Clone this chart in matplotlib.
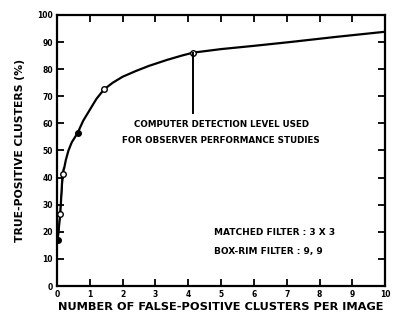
import matplotlib
matplotlib.use("Agg")
import matplotlib.pyplot as plt
import numpy as np

# curve (false positives per image, true positive %)
fp = [0.02, 0.1, 0.17, 0.22, 0.27, 0.35, 0.45, 0.63, 0.8, 1.0, 1.2, 1.43,
      1.7, 2.0, 2.4, 2.8, 3.35, 3.8, 4.15, 5.0, 6.0, 7.1, 8.5, 10.0]
tp = [17, 26.5, 41.5, 43.5, 46.5, 50, 53, 56.5, 61, 65, 69, 72.5,
      75, 77.2, 79.3, 81.2, 83.4, 85, 86.1, 87.4, 88.6, 90, 91.9, 93.8]

# measured points
pt_fp = [0.03, 0.1, 0.17, 0.63, 1.43, 4.15]
pt_tp = [17, 26.5, 41.5, 56.5, 72.5, 86.1]
pt_filled = [True, False, False, True, False, False]

# second short branch near the origin
branch_fp = [0.03, 0.2]
branch_tp = [17, 43.5]

x_ticks = list(range(0, 11))
y_ticks = list(range(0, 101, 10))

fig = plt.figure(figsize=(3.93, 3.25), dpi=100)
ax = fig.add_axes([0.145, 0.12, 0.835, 0.834])

ax.plot(fp, tp, color="black", lw=1.6)
ax.plot(branch_fp, branch_tp, color="black", lw=1.0)
for x, y, f in zip(pt_fp, pt_tp, pt_filled):
    ax.plot(x, y, "o", ms=4, mec="black", mew=1.0,
            mfc="black" if f else "white")

# annotation pointer
ax.plot([4.15, 4.15], [86.1, 64], color="black", lw=1.4)
ax.text(5.0, 59.5, "COMPUTER DETECTION LEVEL USED", ha="center", va="center",
        fontsize=6.3, fontweight="bold")
ax.text(5.0, 53.5, "FOR OBSERVER PERFORMANCE STUDIES", ha="center", va="center",
        fontsize=6.3, fontweight="bold")
ax.text(4.8, 19.6, "MATCHED FILTER : 3 X 3", ha="left", va="center",
        fontsize=6.5, fontweight="bold")
ax.text(4.8, 12.9, "BOX-RIM FILTER : 9, 9", ha="left", va="center",
        fontsize=6.5, fontweight="bold")

ax.set_xlim(0, 10)
ax.set_ylim(0, 100)
ax.set_xticks(x_ticks)
ax.set_yticks(y_ticks)
ax.tick_params(direction="in", length=5, width=1.3, top=True, right=True,
               labelsize=5.5, pad=3)
for lab in ax.get_xticklabels() + ax.get_yticklabels():
    lab.set_fontweight("bold")
for s in ax.spines.values():
    s.set_linewidth(1.6)

ax.set_xlabel("NUMBER OF FALSE-POSITIVE CLUSTERS PER IMAGE", fontsize=8.2,
              fontweight="bold", labelpad=2)
ax.set_ylabel("TRUE-POSITIVE CLUSTERS (%)", fontsize=7.8, fontweight="bold",
              labelpad=9)

fig.savefig("out.png", dpi=100)
